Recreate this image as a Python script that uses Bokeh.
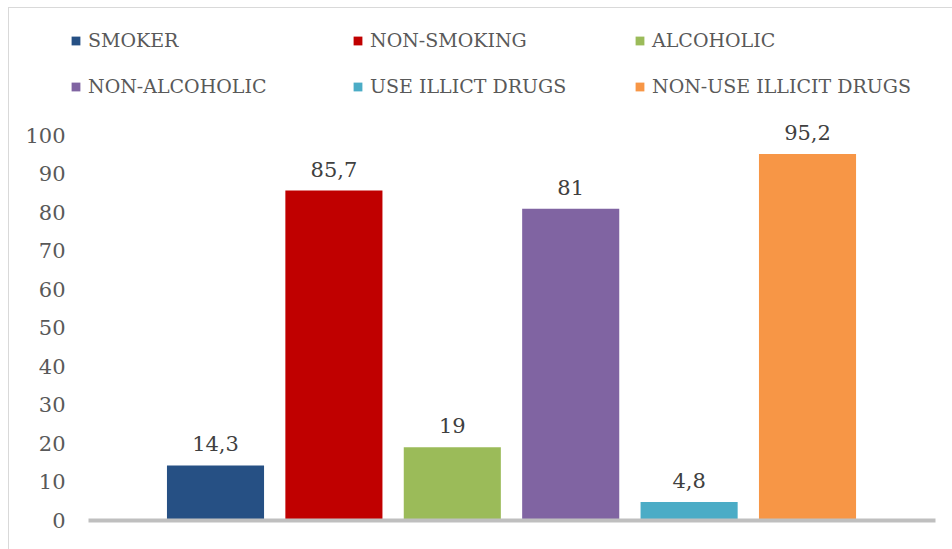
from bokeh.plotting import figure
from bokeh.models import ColumnDataSource, Legend, LegendItem, Range1d, FixedTicker
from bokeh.core.properties import value
from bokeh.embed import file_html
from bokeh.resources import INLINE

categories = ["SMOKER", "NON-SMOKING", "ALCOHOLIC", "NON-ALCOHOLIC", "USE ILLICT DRUGS", "NON-USE ILLICIT DRUGS"]
values = [14.3, 85.7, 19, 81, 4.8, 95.2]
value_labels = ["14,3", "85,7", "19", "81", "4,8", "95,2"]
colors = ["#265084", "#C00000", "#9BBB59", "#8064A2", "#4BACC6", "#F79646"]
y_ticks = [0, 10, 20, 30, 40, 50, 60, 70, 80, 90, 100]

FONT = "DejaVu Serif"

p = figure(width=952, height=549, output_backend="svg", toolbar_location=None,
           x_range=Range1d(-0.2247, 7.081), y_range=Range1d(0, 129.87),
           min_border_left=70, min_border_right=17, min_border_top=20, min_border_bottom=29,
           styles={"background-color": "white",
                   "box-shadow": "inset 8px 7px 0 0 white, inset 9px 8px 0 0 #d9d9d9"})
p.outline_line_color = None
p.background_fill_color = None
p.border_fill_color = None
p.grid.visible = False

xs = list(range(1, len(categories) + 1))
src = ColumnDataSource(dict(x=xs, top=values, lab=value_labels, color=colors, cat=categories))

items = []
for i in range(len(categories)):
    r = p.vbar(x=[xs[i]], top=[values[i]], width=0.82, bottom=0, color=colors[i], line_color=None)
    items.append(LegendItem(label=categories[i], renderers=[r]))

p.text(x="x", y="top", text="lab", source=src, text_align="center", text_baseline="bottom",
       y_offset=-14, text_font=value(FONT), text_font_size="21px", text_color="#404040")

legend = Legend(items=items, ncols=3, location=(0, 423), orientation="horizontal",
                glyph_width=11, glyph_height=11, label_standoff=7, label_width=240, label_height=20,
                spacing=24, padding=0, margin=0, border_line_color=None, background_fill_alpha=0,
                label_text_font=FONT, label_text_font_size="19px", label_text_color="#595959")
p.add_layout(legend, "center")

p.yaxis.ticker = FixedTicker(ticks=y_ticks)
p.yaxis.axis_line_color = None
p.yaxis.major_tick_line_color = None
p.yaxis.minor_tick_line_color = None
p.yaxis.major_tick_out = 0
p.yaxis.major_label_standoff = 5
p.yaxis.major_label_text_font = FONT
p.yaxis.major_label_text_font_size = "21px"
p.yaxis.major_label_text_color = "#595959"

p.xaxis.ticker = FixedTicker(ticks=[])
p.xaxis.bounds = (-0.073, 7.081)
p.xaxis.axis_line_color = "#BFBFBF"
p.xaxis.axis_line_width = 4
p.xaxis.major_tick_line_color = None
p.xaxis.minor_tick_line_color = None
p.xaxis.major_label_text_font_size = "0px"

open("out.html", "w").write(file_html(p, INLINE))
